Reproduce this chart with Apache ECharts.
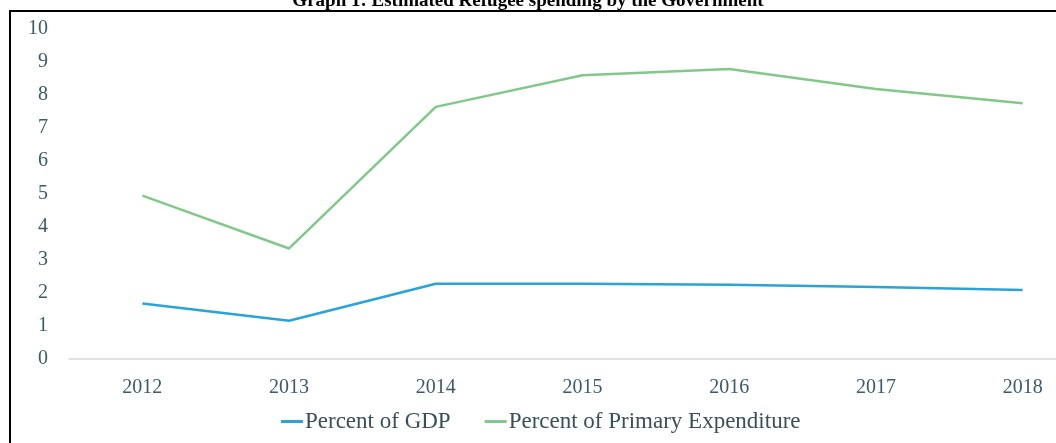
<!DOCTYPE html>
<html>
<head>
<meta charset="utf-8">
<script src="https://cdn.jsdelivr.net/npm/echarts@6/dist/echarts.min.js"></script>
<style>
  html, body { margin: 0; padding: 0; background: #fff; }
  #chart { width: 1056px; height: 443px; }
</style>
</head>
<body>
<div id="chart"></div>
<script>
// data
var years = ['2012', '2013', '2014', '2015', '2016', '2017', '2018'];
var pctGdp = [1.68, 1.16, 2.28, 2.28, 2.25, 2.18, 2.09];
var pctPrimary = [4.95, 3.35, 7.64, 8.6, 8.79, 8.18, 7.75];

var serif = '"Liberation Serif", "DejaVu Serif", serif';
var labelColor = '#3d5a66';

var myChart = echarts.init(document.getElementById('chart'));

var option = {
    backgroundColor: '#fff',
    animation: false,
    title: {
        text: 'Graph 1: Estimated Refugee spending by the Government',
        left: 'center',
        top: -8,
        padding: 0,
        textStyle: {
            fontFamily: '"Liberation Serif", serif',
            fontWeight: 'bold',
            fontSize: 19,
            lineHeight: 18,
            color: '#000'
        }
    },
    // frame lines at top and left
    graphic: [{
        type: 'polyline',
        shape: { points: [[10, 443], [10, 11], [1056, 11]] },
        style: { stroke: '#000', lineWidth: 2, fill: null },
        silent: true
    }],
    legend: {
        bottom: 10,
        left: 281,
        padding: 0,
        itemWidth: 22,
        itemHeight: 3,
        itemGap: 34,
        icon: 'rect',
        textStyle: { fontFamily: serif, fontSize: 23, color: '#3b4f58', padding: [0, 0, 0, -3] },
        data: ['Percent of GDP', 'Percent of Primary Expenditure']
    },
    // plot area runs past the right edge, as in the reference crop
    grid: {
        left: 69,
        right: -40,
        top: 29,
        bottom: 84,
        containLabel: false,
        outerBoundsMode: 'none'
    },
    xAxis: {
        type: 'category',
        data: years,
        boundaryGap: true,
        axisLine: { lineStyle: { color: '#d9d9d9', width: 1.5 } },
        axisTick: { show: false },
        axisLabel: { margin: 19, fontFamily: serif, fontSize: 20, color: labelColor }
    },
    yAxis: {
        type: 'value',
        min: 0,
        max: 10,
        interval: 1,
        splitLine: { show: false },
        axisLine: { show: false },
        axisTick: { show: false },
        axisLabel: { margin: 21, fontFamily: serif, fontSize: 20, color: labelColor }
    },
    series: [
        {
            name: 'Percent of GDP',
            type: 'line',
            data: pctGdp,
            symbol: 'none',
            color: '#2aa3d8',
            lineStyle: { width: 2.5, color: '#2aa3d8' }
        },
        {
            name: 'Percent of Primary Expenditure',
            type: 'line',
            data: pctPrimary,
            symbol: 'none',
            color: '#82c88a',
            lineStyle: { width: 2.5, color: '#82c88a' }
        }
    ]
};

myChart.setOption(option);
</script>
</body>
</html>
